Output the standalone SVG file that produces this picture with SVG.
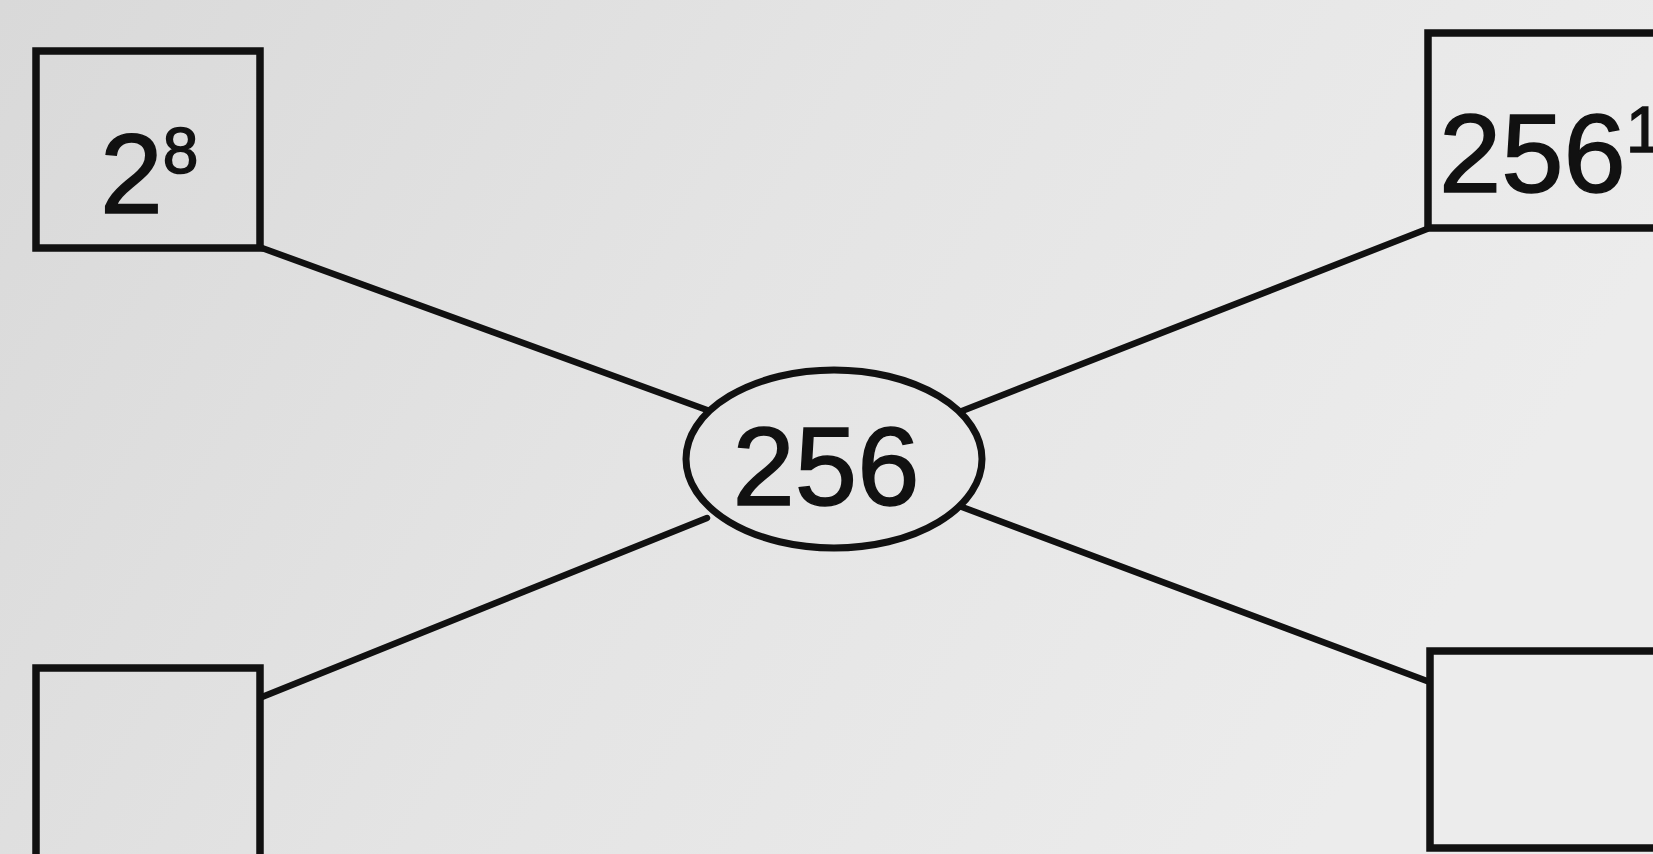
<svg xmlns="http://www.w3.org/2000/svg" width="1653" height="854" viewBox="0 0 1653 854">
<defs>
<linearGradient id="bg" x1="0" y1="0" x2="1" y2="0.3">
<stop offset="0" stop-color="#d9d9d9"/>
<stop offset="0.5" stop-color="#e4e4e4"/>
<stop offset="1" stop-color="#ececec"/>
</linearGradient>
<style>
.box{fill:none;stroke:#111;stroke-width:7.5}
.conn{stroke:#111;stroke-width:6.5;fill:none;stroke-linecap:round}
.t{font-family:"Liberation Sans",Arial,sans-serif;fill:#111;stroke:#111;stroke-width:1.5}
</style>
</defs>
<rect x="0" y="0" width="1653" height="854" fill="url(#bg)"/>
<g id="connectors">
<line class="conn" x1="262" y1="248" x2="707" y2="410"/>
<line class="conn" x1="1427" y1="229" x2="962" y2="411"/>
<line class="conn" x1="262" y1="697" x2="707" y2="518"/>
<line class="conn" x1="1427" y1="681" x2="962" y2="507"/>
</g>
<g id="node-tl">
<rect class="box" x="36" y="51" width="224" height="197"/>
<text class="t" x="100" y="213" font-size="113">2<tspan font-size="64" dy="-40">8</tspan></text>
</g>
<g id="node-tr">
<rect class="box" x="1428" y="33" width="240" height="195"/>
<text class="t" x="1439" y="192" font-size="112">256<tspan font-size="64" dy="-40">1</tspan></text>
</g>
<g id="node-center">
<ellipse cx="834" cy="459" rx="148" ry="89" fill="none" stroke="#111" stroke-width="7"/>
<text class="t" x="826" y="505" font-size="112" text-anchor="middle">256</text>
</g>
<g id="node-bl">
<rect class="box" x="36" y="668" width="224" height="200"/>
</g>
<g id="node-br">
<rect class="box" x="1430" y="651" width="240" height="197"/>
</g>
</svg>
